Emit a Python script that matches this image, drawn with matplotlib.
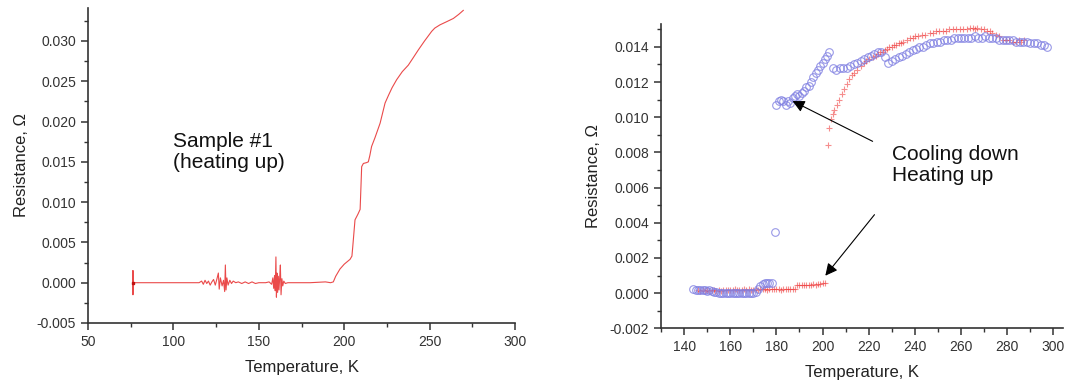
import matplotlib
matplotlib.use('Agg')
import matplotlib.pyplot as plt
from matplotlib.ticker import MultipleLocator
import numpy as np

plt.rcParams['font.family'] = ['Liberation Sans', 'DejaVu Sans']

# sample #1, heating up (left panel)
temp_1 = [76.3, 76.3, 76.3, 76.4, 100, 115, 116.5, 117.5, 118.5, 119.5,
          120.5, 121.5, 122.5, 123.5, 124.5, 125.5, 126.3, 126.8, 127.5,
          128.5, 129.3, 130.0, 130.4, 130.8, 131.3, 132, 133, 134, 135,
          136.5, 138, 140, 142, 144, 146, 148, 150, 152, 154, 156, 157.5,
          158.2, 158.7, 159.2, 159.6, 160.0, 160.3, 160.6, 161.0, 161.4,
          161.8, 162.2, 162.6, 163.0, 163.5, 164.0, 164.6, 165.5, 167, 170,
          180, 189, 192, 193.6, 195, 197.5, 200, 203.4, 204.5, 205, 206.3,
          208, 209.3, 209.8, 210.2, 211.2, 213, 214.1, 215, 216, 218, 221,
          223.9, 226, 228, 230.7, 234, 237.5, 240, 243.4, 247, 251.2, 253,
          256, 260, 263.9, 267, 269.7]
res_1 = [0.0, 0.0015, -0.0015, 0.0, 0.0, 0.0, 0.0002, -0.0002, 0.0003,
         -0.0001, 0.0002, -0.0003, 0.0001, 0.0004, -0.0003, 0.0005, 0.0012,
         -0.0008, 0.0006, -0.0004, 0.0003, -0.0011, 0.0022, -0.0009, 0.0006,
         -0.0003, 0.0003, -0.0001, 0.0002, 0.0, 0.0001, -0.0001, 0.0001,
         -0.0001, 0.0001, -0.0001, 0.0, 0.0, 0.0, 0.0001, -0.0002, 0.0006,
         -0.0007, 0.0009, -0.0010, 0.0032, -0.0018, 0.0012, -0.0012, 0.0008,
         -0.0009, 0.0006, 0.0022, -0.0015, 0.0005, -0.0004, 0.0002, -0.0001,
         0.0, 0.0, 0.0, 0.0001, 0.0, 0.0001, 0.0008, 0.0017, 0.0023, 0.0029,
         0.0033, 0.0045, 0.0078, 0.0085, 0.0091, 0.0120, 0.0144, 0.0148,
         0.0149, 0.0150, 0.0158, 0.0169, 0.0180, 0.0198, 0.0223, 0.0233,
         0.0242, 0.0252, 0.0262, 0.0270, 0.0278, 0.0289, 0.0300, 0.0312,
         0.0316, 0.0320, 0.0324, 0.0328, 0.0333, 0.0338]

# cooling down (blue circles)
temp_cool = [144, 145, 146, 147, 148, 149, 150, 151, 152, 153, 154, 155,
             156, 157, 158, 159, 160, 161, 162, 163, 164, 165, 166, 167, 168,
             169, 170, 171, 172, 173, 174, 175, 176, 177, 178, 179.3,
             180, 181, 182, 183, 184, 185, 186, 187, 188, 189, 190, 191, 192,
             193, 194, 195, 196, 197, 198, 199, 200, 201, 202, 203,
             204.5, 206, 207.5, 209, 210.5, 212, 213.5, 215, 216.5, 218,
             219.5, 221, 222.5, 224, 225.5, 227, 228.5, 230, 231.5, 233,
             234.5, 236, 237.5, 239, 240.5, 242, 243.5, 245, 246.5, 248,
             249.5, 251, 252.5, 254, 255.5, 257, 258.5, 260, 261.5, 263,
             264.5, 266, 267.5, 269, 270.5, 272, 273.5, 275, 276.5, 278,
             279.5, 281, 282.5, 284, 285.5, 287, 288.5, 290, 291.5, 293,
             294.5, 296, 297.2]
res_cool = [0.00022, 0.0002, 0.00018, 0.0002, 0.00015, 0.00018, 0.00012,
            0.00015, 0.0001, 0.00008, 0.00005, 0.00002, 0.0, 0.0, -0.00002,
            0.0, 0.0, 0.00002, 0.0, 0.0, 0.00003, 0.0, 0.0, 0.00002, 0.0,
            0.00002, 0.0, 0.00005, 0.00025, 0.0004, 0.0005, 0.00055, 0.0006,
            0.0006, 0.00055, 0.0035,
            0.0107, 0.0109, 0.0110, 0.0109, 0.0107, 0.0109, 0.0108, 0.0111,
            0.0112, 0.0113, 0.0112, 0.0114, 0.0115, 0.0117, 0.0118, 0.0120,
            0.0123, 0.0125, 0.0127, 0.0129, 0.0131, 0.0133, 0.0135, 0.0137,
            0.0128, 0.0127, 0.0128, 0.0128, 0.0128, 0.0129, 0.0130, 0.0131,
            0.0132, 0.0133, 0.0134, 0.0135, 0.0136, 0.0137, 0.0137, 0.0134,
            0.0131, 0.0132, 0.0133, 0.0134, 0.0135, 0.0136, 0.0137, 0.0138,
            0.0139, 0.0140, 0.0140, 0.0141, 0.0142, 0.0142, 0.0143, 0.0143,
            0.0144, 0.0144, 0.0144, 0.0145, 0.0145, 0.0145, 0.0145, 0.0145,
            0.0145, 0.0146, 0.0145, 0.0145, 0.0146, 0.0145, 0.0145, 0.0145,
            0.0144, 0.0144, 0.0144, 0.0144, 0.0144, 0.0143, 0.0143, 0.0143,
            0.0143, 0.0142, 0.0142, 0.0142, 0.0141, 0.0141, 0.0140]

# heating up (red crosses)
temp_heat = [146, 147, 148, 149, 150, 151, 152, 153, 154, 155, 156, 157,
             158, 159, 160, 161, 162, 163, 164, 165, 166, 167, 168, 169, 170,
             171, 172, 173, 174, 175, 176, 177, 178, 179, 180, 181, 182, 183,
             184, 185, 186, 187, 188, 189, 190, 191, 192, 193, 194, 195, 196,
             197, 198, 199, 200, 201,
             202.2, 202.9, 203.7, 204.4, 205.1, 206.2, 207.3, 208.3, 209.4,
             210.5, 211.6, 212.7, 213.8, 215, 216.7, 218, 219, 220, 221.7,
             223, 224, 225, 226, 227, 228, 229, 230, 231, 232, 233, 234, 235,
             236.5, 237.7, 239, 240, 241.5, 243, 244.5, 246.4, 248, 249,
             250.5, 252, 253.5, 255, 256.5, 258, 259.5, 261, 262.5, 263.8,
             265, 266, 267, 268.5, 270, 271.2, 272.5, 273.5, 275, 276.5,
             278.3, 279.5, 281, 282.5, 284, 285, 286, 287.5]
res_heat = [0.00015, 0.00012, 0.00018, 0.00014, 0.00016, 0.0001, 0.00015,
            0.00018, 0.00013, 0.00016, 0.00012, 0.00018, 0.00015, 0.0002,
            0.00016, 0.00019, 0.00022, 0.00018, 0.0002, 0.00017, 0.00021,
            0.00019, 0.00022, 0.00018, 0.0002, 0.00022, 0.0002, 0.00024,
            0.00021, 0.00023, 0.0002, 0.00022, 0.00024, 0.00021, 0.00022,
            0.00024, 0.0002, 0.00023, 0.00022, 0.00024, 0.00021, 0.00023,
            0.00022, 0.00045, 0.00046, 0.00044, 0.00047, 0.00046, 0.00048,
            0.00047, 0.0005, 0.00049, 0.00052, 0.00053, 0.00056, 0.0006,
            0.0084, 0.0094, 0.0099, 0.0102, 0.0104, 0.0107, 0.0110, 0.0113,
            0.0116, 0.0119, 0.0122, 0.0124, 0.01254, 0.0127, 0.0129, 0.0131,
            0.0132, 0.0133, 0.0134, 0.0135, 0.0136, 0.0137, 0.0137, 0.0138,
            0.0139, 0.0140, 0.0140, 0.0141, 0.0141, 0.0142, 0.0142, 0.0143,
            0.0144, 0.0145, 0.0145, 0.0146, 0.0146, 0.0147, 0.0147, 0.0148,
            0.0148, 0.0149, 0.0149, 0.0149, 0.0149, 0.0150, 0.0150, 0.0150,
            0.0150, 0.0150, 0.0150, 0.0151, 0.0151, 0.0150, 0.0151, 0.0150,
            0.0150, 0.0149, 0.0149, 0.0148, 0.0147, 0.0146, 0.0144, 0.0144,
            0.0144, 0.0143, 0.0143, 0.0144, 0.0143, 0.0144]


def style_axes(ax):
    for side in ['top', 'right']:
        ax.spines[side].set_visible(False)
    for side in ['left', 'bottom']:
        ax.spines[side].set_color('#333333')
        ax.spines[side].set_linewidth(1.2)
    ax.tick_params(which='major', direction='out', length=5, width=1.1,
                   color='#333333', labelsize=10, labelcolor='#333333')
    ax.tick_params(which='minor', direction='out', length=3, width=1.0,
                   color='#333333')


fig = plt.figure(figsize=(10.71, 3.83), dpi=100)

# left panel
ax1 = fig.add_axes([0.0822, 0.1567, 0.3987, 0.8225])
ax1.plot(temp_1, res_1, color='#ea4a4a', lw=0.8)
ax1.plot(temp_1[:1], res_1[:1], marker='s', ms=1.5, color='#c01010')
ax1.set_xlim(50, 300)
ax1.set_ylim(-0.005, 0.0341)
ax1.xaxis.set_major_locator(MultipleLocator(50))
ax1.xaxis.set_minor_locator(MultipleLocator(25))
ax1.yaxis.set_major_locator(MultipleLocator(0.005))
ax1.yaxis.set_minor_locator(MultipleLocator(0.0025))
ax1.yaxis.set_major_formatter(plt.FormatStrFormatter('%.3f'))
style_axes(ax1)
ax1.set_xlabel('Temperature, K', fontsize=12, color='#222222', labelpad=8)
ax1.set_ylabel('Resistance, \u03a9', fontsize=12, color='#222222', labelpad=6)
ax1.text(100, 0.0187, 'Sample #1\n(heating up)', fontsize=15, va='top',
         ha='left', color='#111111', linespacing=1.1)

# right panel
ax2 = fig.add_axes([0.6172, 0.1428, 0.3749, 0.7945])
ax2.plot(temp_heat, res_heat, ls='none', marker='+', ms=4, mew=0.8,
         color='#ee3030', alpha=0.55)
ax2.plot(temp_cool, res_cool, ls='none', marker='o', ms=5.5, mew=0.8,
         mfc='none', mec='#8080e2', alpha=0.8)
ax2.set_xlim(130, 304)
ax2.set_ylim(-0.002, 0.0153)
ax2.xaxis.set_major_locator(MultipleLocator(20))
ax2.xaxis.set_minor_locator(MultipleLocator(10))
ax2.yaxis.set_major_locator(MultipleLocator(0.002))
ax2.yaxis.set_minor_locator(MultipleLocator(0.001))
ax2.yaxis.set_major_formatter(plt.FormatStrFormatter('%.3f'))
style_axes(ax2)
ax2.set_xlabel('Temperature, K', fontsize=12, color='#222222', labelpad=8)
ax2.set_ylabel('Resistance, \u03a9', fontsize=12, color='#222222', labelpad=6)
ax2.text(230.3, 0.0084, 'Cooling down\nHeating up', fontsize=15, va='top',
         ha='left', color='#111111', linespacing=1.1)
arrow = dict(arrowstyle='-|>', color='black', lw=0.8, mutation_scale=18,
             shrinkA=0, shrinkB=0)
ax2.annotate('', xy=(187, 0.01092), xytext=(221.7, 0.00863), arrowprops=arrow)
ax2.annotate('', xy=(201.2, 0.00099), xytext=(222.5, 0.00446), arrowprops=arrow)

fig.savefig('out.png', dpi=100)
